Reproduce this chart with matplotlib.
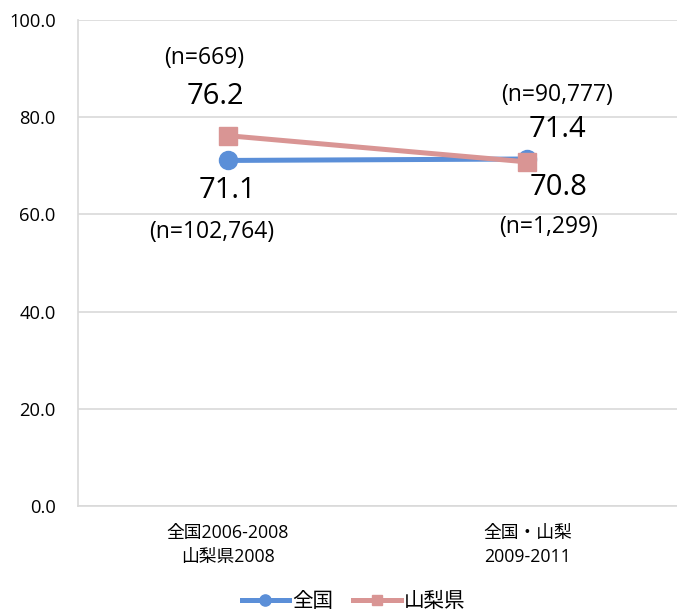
import matplotlib
matplotlib.use('Agg')
import matplotlib.pyplot as plt

plt.rcParams['font.family'] = ['Open Sans', 'Noto Sans CJK JP', 'DejaVu Sans']

# data
categories = ['全国2006-2008\n山梨県2008', '全国・山梨\n2009-2011']
zenkoku = [71.1, 71.4]
yamanashi = [76.2, 70.8]
zenkoku_n = ['(n=102,764)', '(n=90,777)']
yamanashi_n = ['(n=669)', '(n=1,299)']

blue = '#5B8FD8'
pink = '#D99594'
grid = '#D9D9D9'

fig = plt.figure(figsize=(6.77, 6.12), dpi=100)
ax = fig.add_axes([78 / 677, 106 / 612, 1 - 78 / 677, 486 / 612])

x = list(range(len(categories)))
ax.plot(x, zenkoku, color=blue, lw=3.6, marker='o', ms=13, label='全国', zorder=3)
ax.plot(x, yamanashi, color=pink, lw=3.6, marker='s', ms=12.5, label='山梨県', zorder=4)

# value / n labels (offsets in pixels)
val_off_z = [(0, -30), (30, 29)]
n_off_z = [(-16, -72), (30, 64)]
val_off_y = [(-12, 39), (31, -26)]
n_off_y = [(-24, 78), (21, -65)]
for i in x:
    ax.annotate(f'{zenkoku[i]:.1f}', (i, zenkoku[i]), xytext=val_off_z[i],
                textcoords='offset pixels', ha='center', va='center', fontsize=21)
    ax.annotate(zenkoku_n[i], (i, zenkoku[i]), xytext=n_off_z[i],
                textcoords='offset pixels', ha='center', va='center', fontsize=16.5)
    ax.annotate(f'{yamanashi[i]:.1f}', (i, yamanashi[i]), xytext=val_off_y[i],
                textcoords='offset pixels', ha='center', va='center', fontsize=21)
    ax.annotate(yamanashi_n[i], (i, yamanashi[i]), xytext=n_off_y[i],
                textcoords='offset pixels', ha='center', va='center', fontsize=16.5)

ax.set_xlim(-0.5, 1.5)
ax.set_ylim(0, 100)
ax.set_yticks([0, 20, 40, 60, 80, 100])
ax.set_yticklabels([f'{v:.1f}' for v in [0, 20, 40, 60, 80, 100]], fontsize=13.2)
ax.set_xticks(x)
ax.set_xticklabels(categories, fontsize=12.8, linespacing=1.45)
ax.tick_params(length=0)
ax.tick_params(axis='y', pad=16)
ax.tick_params(axis='x', pad=13)

ax.yaxis.grid(True, color=grid, lw=1.2)
ax.set_axisbelow(True)
for s in ['top', 'right']:
    ax.spines[s].set_visible(False)
ax.spines['left'].set_color(grid)
ax.spines['bottom'].set_color(grid)
ax.spines['left'].set_linewidth(1.2)
ax.spines['bottom'].set_linewidth(1.2)

fig.legend(loc='lower center', bbox_to_anchor=(0.522, -0.03), ncol=2, frameon=False,
           fontsize=14.8, handlelength=2.3, columnspacing=1.0, handletextpad=0.15,
           markerscale=0.62)

fig.savefig('out.png', dpi=100)
